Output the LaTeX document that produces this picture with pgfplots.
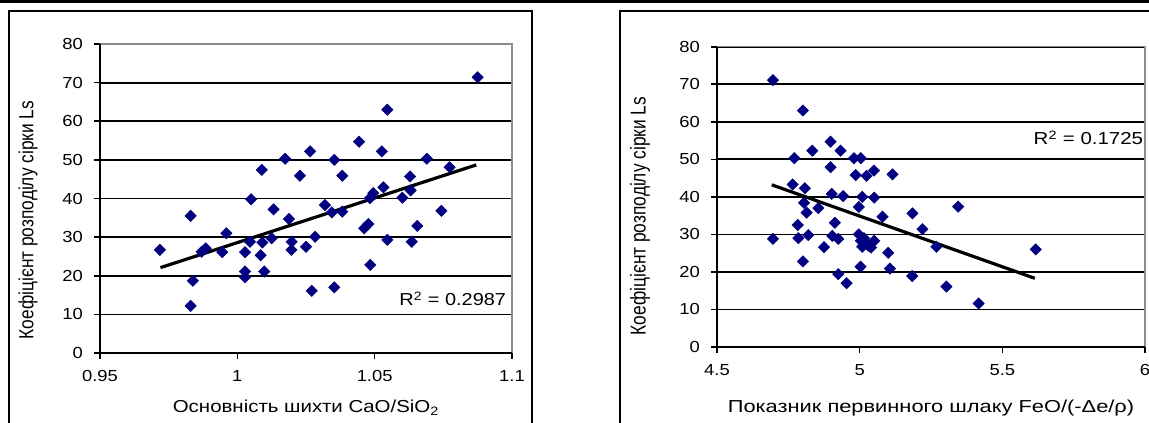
\documentclass[border=0pt]{standalone}
\usepackage{fontspec}
\setmainfont{Liberation Sans}
\usepackage{pgfplots}
\pgfplotsset{compat=1.18}
\newcommand\PX{0.75pt}
\definecolor{navy}{RGB}{0,0,128}
\definecolor{bordergray}{RGB}{140,140,140}
\newcommand\tickfont{\fontsize{12}{14}\selectfont}
\newcommand\titlefont{\fontsize{13}{15}\selectfont}

\pgfplotstableread{
x y
0.9718 26.7
0.9830 35.5
0.9838 18.7
0.9830 12.2
0.9870 26.2
0.9885 27.1
0.9945 26.1
0.9960 31.0
1.0028 26.1
1.0028 21.1
1.0028 19.6
1.0050 39.8
1.0046 28.8
1.0085 25.3
1.0098 21.1
1.0089 47.4
1.0091 28.6
1.0125 29.7
1.0132 37.2
1.0174 50.3
1.0188 34.7
1.0198 28.8
1.0197 26.7
1.0228 45.9
1.0250 27.5
1.0265 52.2
1.0271 16.1
1.0283 30.1
1.0875 71.4
1.0546 63.0
1.0443 54.7
1.0526 52.2
1.0353 50.0
1.0690 50.3
1.0773 48.1
1.0382 45.9
1.0629 45.7
1.0532 42.9
1.0631 42.1
1.0495 41.4
1.0483 40.1
1.0601 40.2
1.0319 38.3
1.0344 36.4
1.0382 36.6
1.0743 36.8
1.0477 33.4
1.0462 32.3
1.0655 32.9
1.0546 29.3
1.0635 28.8
1.0484 22.8
1.0353 17.0
}\leftdata

\pgfplotstableread{
x y
4.696 71.1
4.801 63.0
4.771 50.3
4.834 52.3
4.898 54.7
4.933 52.3
4.898 47.9
4.980 50.3
5.004 50.3
4.986 45.8
5.024 45.6
5.050 47.0
5.115 46.0
4.765 43.3
4.808 42.3
4.902 40.8
4.942 40.2
5.009 40.0
5.051 39.8
4.805 38.4
4.814 35.8
4.855 37.0
4.997 37.3
5.080 34.7
4.783 32.5
4.913 33.1
4.696 28.8
4.785 29.0
4.820 29.8
4.904 29.6
4.925 28.8
4.875 26.6
4.997 30.0
5.004 28.3
5.030 27.0
5.051 28.3
5.009 26.7
5.015 29.0
5.040 26.5
5.100 25.1
4.801 22.8
5.003 21.4
5.106 20.9
4.925 19.4
4.954 17.0
5.185 35.6
5.345 37.4
5.220 31.4
5.269 26.7
5.184 18.9
5.304 16.1
5.417 11.6
5.617 26.0
}\rightdata

\pgfplotsset{
  panel/.style={
    scale only axis,
    anchor=south west,
    axis line style={draw=none},
    xtick pos=bottom, ytick pos=left,
    ymin=0, ymax=80, ytick={0,10,...,80},
    ymajorgrids,
    grid style={black, line width=1.3pt},
    tick align=outside,
    major tick length=4.5pt,
    tick style={black, line width=1.2pt},
    /pgf/number format/assume math mode=true,
    tick label style={font=\tickfont, xscale=1.15},
    xticklabel style={yshift=-7*\PX},
    yticklabel style={xshift=-5*\PX},
    clip=false,
  },
  pts/.style={only marks, mark=square*, mark size=3pt,
    mark options={rotate=45, fill=navy, draw=navy}},
  trend/.style={black, line width=2.4pt, no marks},
}

\begin{document}
\begin{tikzpicture}
\useasboundingbox (0,0) rectangle (1149*\PX,-423*\PX);
\fill[black] (0,0) rectangle (1149*\PX,-2.7*\PX);
\draw[line width=2*\PX] (9*\PX,-440*\PX) -- (9*\PX,-11.5*\PX) -- (531.5*\PX,-11.5*\PX) -- (531.5*\PX,-440*\PX);
\draw[line width=2*\PX] (620*\PX,-440*\PX) -- (620*\PX,-11.5*\PX) -- (1160*\PX,-11.5*\PX);

\begin{axis}[panel,
  at={(100*\PX,-353*\PX)},
  width=412*\PX, height=309*\PX,
  xmin=0.95, xmax=1.1, xtick={0.95,1,1.05,1.1},
  xticklabels={0.95,1,1.05,1.1},
]
\addplot[pts] table[x=x,y=y] {\leftdata};
\addplot[trend] coordinates {(0.972,22.1) (1.087,48.7)};
\draw[bordergray, line width=1.5*\PX] (rel axis cs:0,1) -- (rel axis cs:1,1) -- (rel axis cs:1,0);
\draw[black, line width=2*\PX] (rel axis cs:0,1) -- (rel axis cs:0,0) -- (rel axis cs:1,0);
\node[anchor=east, font=\titlefont, xscale=1.15, inner sep=1pt] at (axis cs:1.0985,14) {R\textsuperscript{2} = 0.2987};
\end{axis}

\begin{axis}[panel,
  at={(717*\PX,-347*\PX)},
  width=428*\PX, height=300.3*\PX,
  xmin=4.5, xmax=6, xtick={4.5,5,5.5,6},
  xticklabels={4.5,5,5.5,6},
]
\addplot[pts] table[x=x,y=y] {\rightdata};
\addplot[trend] coordinates {(4.692,43.2) (5.614,18.3)};
\draw[bordergray, line width=1.5*\PX] (rel axis cs:0,1) -- (rel axis cs:1,1) -- (rel axis cs:1,0);
\draw[black, line width=2*\PX] (rel axis cs:0,1) -- (rel axis cs:0,0) -- (rel axis cs:1,0);
\node[anchor=east, font=\titlefont, xscale=1.18, inner sep=1pt] at (axis cs:6.0,55.7) {R\textsuperscript{2} = 0.1725};
\end{axis}

\node[anchor=base, font=\titlefont, xscale=1.18] at (306*\PX,-413*\PX) {Основність шихти CaO/SiO\textsubscript{2}};
\node[rotate=90, font=\titlefont, yscale=1.18] at (28*\PX,-220*\PX) {Коефіцієнт розподілу сірки Ls};
\node[anchor=base, font=\titlefont, xscale=1.26] at (931*\PX,-413*\PX) {Показник первинного шлаку FeO/(-Δe/ρ)};
\node[rotate=90, font=\titlefont, yscale=1.24] at (640*\PX,-216*\PX) {Коефіцієнт розподілу сірки Ls};
\end{tikzpicture}
\end{document}
